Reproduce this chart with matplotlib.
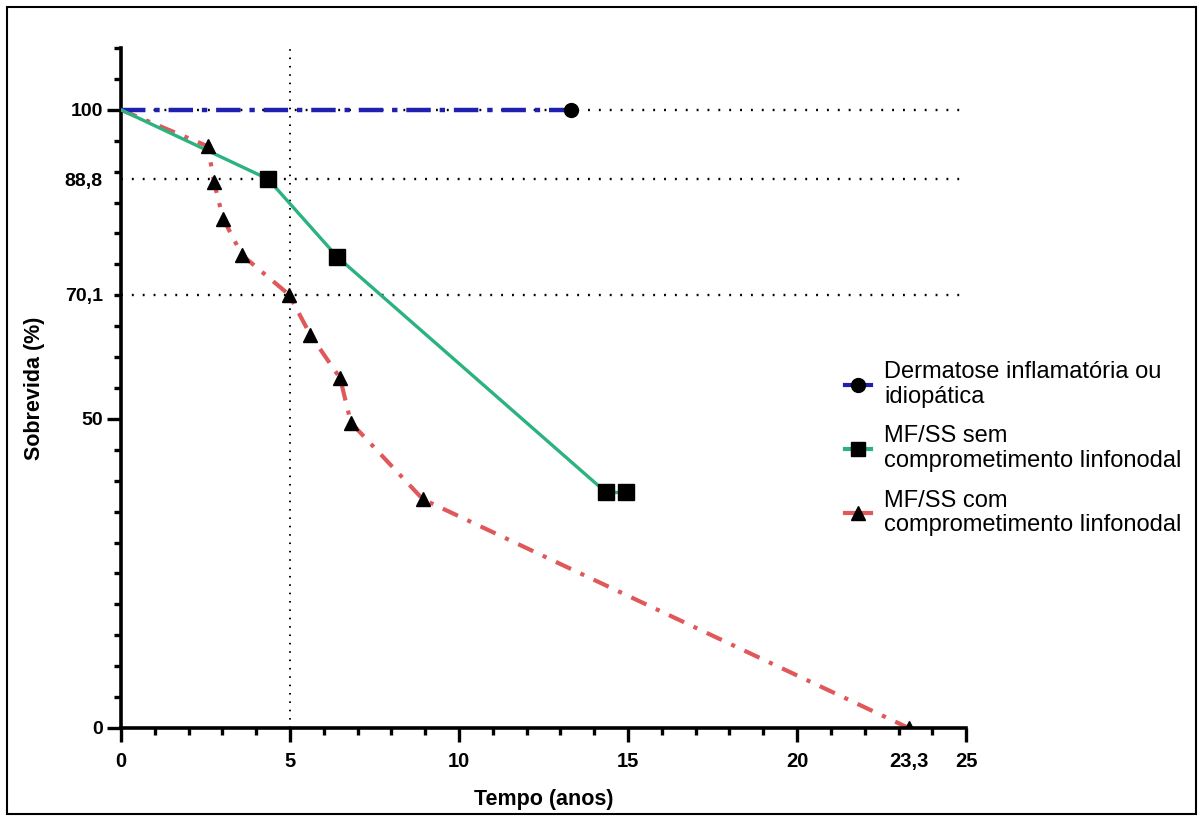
import matplotlib
matplotlib.use("Agg")
import matplotlib.pyplot as plt
from matplotlib.lines import Line2D
from matplotlib.patches import Rectangle
from matplotlib.ticker import FixedLocator

plt.rcParams['font.family'] = ['Liberation Sans', 'DejaVu Sans']

# dados (tempo em anos, sobrevida em %)
dermatose_t = [0, 13.3]
dermatose_s = [100, 100]

sem_t = [0, 4.35, 6.4, 14.35, 14.95]
sem_s = [100, 88.8, 76.2, 38.1, 38.1]

com_t = [0, 2.57, 2.75, 3.02, 3.58, 4.97, 5.6, 6.48, 6.8, 8.93, 23.3]
com_s = [100, 94.1, 88.3, 82.4, 76.5, 70.1, 63.6, 56.6, 49.4, 37.0, 0]

ref_y = [100, 88.8, 70.1]
ref_x = 5

yticks = [0, 50, 70.1, 88.8, 100]
ytick_labels = ["0", "50", "70,1", "88,8", "100"]
xticks = [0, 5, 10, 15, 20, 23.3, 25]
xtick_labels = ["0", "5", "10", "15", "20", "23,3", "25"]

labels = ["Dermatose inflamatória ou\nidiopática",
          "MF/SS sem\ncomprometimento linfonodal",
          "MF/SS com\ncomprometimento linfonodal"]

blue = "#1f1fb0"
green = "#2bb37f"
red = "#e0585a"

fig = plt.figure(figsize=(12.03, 8.21), dpi=100)
ax = fig.add_axes([0.1006, 0.1133, 0.7025, 0.8282])

# linhas de referencia pontilhadas
for y in ref_y:
    ax.plot([0, 25], [y, y], color="black", lw=1.7, ls=(0, (0.8, 3.8)), zorder=1)
ax.plot([ref_x, ref_x], [0, 110], color="black", lw=1.4, ls=(0, (0.8, 3.5)), zorder=1)

ax.plot(dermatose_t, dermatose_s, color=blue, lw=3.2, ls=(0, (5.5, 2, 1.2, 2)), zorder=3)
ax.plot(dermatose_t[-1:], dermatose_s[-1:], "o", color="black", ms=10, zorder=5)

ax.plot(sem_t, sem_s, color=green, lw=2.4, zorder=3)
ax.plot(sem_t[1:], sem_s[1:], "s", color="black", ms=11, zorder=5)

ax.plot(com_t, com_s, color=red, lw=3.0, ls=(0, (4, 2.5, 1, 2.5)), zorder=2)
ax.plot(com_t[1:], com_s[1:], "^", color="black", ms=10.5, zorder=5)

ax.set_xlim(0, 25)
ax.set_ylim(0, 110)
ax.spines["top"].set_visible(False)
ax.spines["right"].set_visible(False)
for s in ["left", "bottom"]:
    ax.spines[s].set_linewidth(2.6)

ax.set_xticks(xticks)
ax.set_xticklabels(xtick_labels, fontsize=14.5, fontweight="bold")
ax.set_yticks(yticks)
ax.set_yticklabels(ytick_labels, fontsize=14, fontweight="bold")
ax.xaxis.set_minor_locator(FixedLocator([v for v in range(0, 26) if v % 5 != 0]))
ax.yaxis.set_minor_locator(FixedLocator([v for v in range(5, 111, 5) if v not in (50, 100)]))
ax.tick_params(which="major", length=10, width=2.4, pad=3)
ax.tick_params(axis="x", which="major", pad=7)
ax.tick_params(which="minor", length=5, width=2.4)

# sem traco longo nos rotulos 23,3 / 70,1 / 88,8
for t in [ax.xaxis.get_major_ticks()[5]] + ax.yaxis.get_major_ticks()[2:4]:
    t.tick1line.set_markersize(0)

ax.set_xlabel("Tempo (anos)", fontsize=15.5, fontweight="bold", labelpad=13)
ax.set_ylabel("Sobrevida (%)", fontsize=15.5, fontweight="bold", labelpad=14)

handles = [
    Line2D([], [], color=blue, lw=3, marker="o", mfc="black", mec="black", ms=10),
    Line2D([], [], color=green, lw=3, marker="s", mfc="black", mec="black", ms=10),
    Line2D([], [], color=red, lw=3, marker="^", mfc="black", mec="black", ms=10),
]
leg = fig.legend(handles, labels, loc="upper left", bbox_to_anchor=(0.685, 0.586),
                 frameon=False, fontsize=17, handlelength=1.1, handletextpad=0.55,
                 labelspacing=0.75)
for txt in leg.get_texts():
    txt.set_linespacing(1.15)

# moldura da figura
fig.patches.append(Rectangle((0.006, 0.008), 0.988, 0.984, transform=fig.transFigure,
                             fill=False, edgecolor="black", lw=1.5))

fig.savefig("out.png", dpi=100)
